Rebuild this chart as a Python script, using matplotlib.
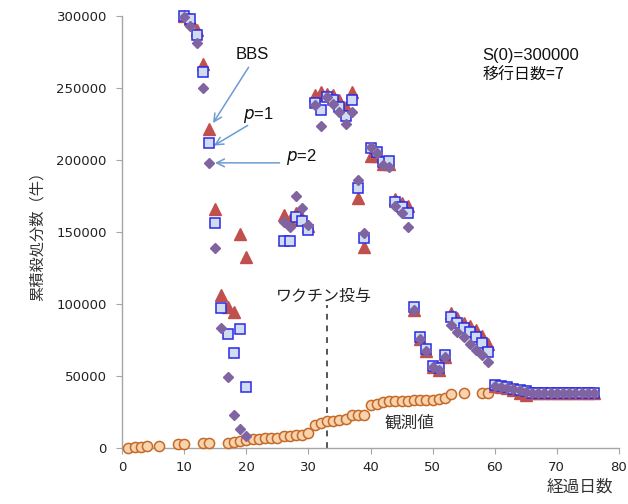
import matplotlib
matplotlib.use("Agg")
import matplotlib.pyplot as plt

# Observed cumulative culled cattle
obs_days = [1, 2, 3, 4, 6, 9, 10, 13, 14, 17, 18, 19, 20, 21, 22, 23, 24, 25, 26, 27, 28, 29, 30,
            31, 32, 33, 34, 35, 36, 37, 38, 39, 40, 41, 42, 43, 44, 45, 46, 47, 48, 49, 50,
            51, 52, 53, 55, 58, 59]
obs_vals = [300, 600, 900, 1100, 1600, 2800, 2800, 3500, 3500, 3700, 4200, 5100, 5800, 6300, 6600,
            6800, 6900, 6900, 8300, 8300, 9000, 9300, 10200, 16200, 17600, 18500, 19000, 19700,
            19900, 23100, 23100, 23100, 29600, 30400, 31700, 32400, 32400, 32400, 32400, 33100,
            33100, 33100, 33100, 33800, 35000, 37300, 37900, 37900, 37900]

# Model predictions
model_days = [10, 11, 12, 13, 14, 15, 16, 17, 18, 19, 20,
              26, 27, 28, 29, 30, 31, 32, 33, 34, 35, 36, 37, 38, 39,
              40, 41, 42, 43, 44, 45, 46, 47, 48, 49, 50, 51, 52,
              53, 54, 55, 56, 57, 58, 59,
              60, 61, 62, 63, 64, 65, 66, 67, 68, 69, 70, 71, 72, 73, 74, 75, 76]
bbs_vals = [300000, 298000, 290000, 266700, 221500, 165800, 106000, 97700, 94700, 148400, 132800,
            162000, 158000, 163000, 160000, 154000, 245000, 247500, 246000, 245000, 241700, 237000,
            247500, 173400, 139800,
            203000, 203000, 197000, 197000, 173000, 170000, 168000, 96000, 75500, 67500, 56000, 54500, 63500,
            94000, 90000, 87000, 85000, 82000, 78000, 72000,
            43000, 42500, 41500, 40000, 38000, 36500, 38000, 38000, 38000, 38000, 38000, 38000,
            38000, 38000, 38000, 38000, 38000]
p1_vals = [300000, 298000, 287000, 261000, 212000, 156000, 97000, 79000, 66200, 82600, 42600,
           143500, 143500, 160600, 157600, 151400, 239400, 234700, 243500, 242000, 237000, 230600,
           241700, 180300, 145600,
           208100, 205800, 198800, 199300, 171000, 167600, 163000, 97700, 76900, 68500, 57000, 55300, 64600,
           91200, 86600, 83100, 80800, 77300, 73100, 66900,
           43700, 43000, 42300, 41300, 40300, 39300, 38500, 38200, 38000, 38000, 38000, 38000,
           38000, 38000, 38000, 38000, 38000]
p2_vals = [299000, 293000, 281000, 250000, 197700, 139000, 83500, 49500, 22900, 13000, 8500,
           157000, 153700, 175000, 167000, 154800, 238000, 223600, 244000, 239000, 233000, 225000,
           233000, 186000, 149500,
           208800, 205000, 196500, 195000, 168000, 163000, 153700, 95800, 75500, 67500, 56000, 54500, 63500,
           85400, 80800, 77300, 72200, 68100, 64600, 59900,
           43000, 42700, 42000, 41000, 40000, 39000, 38300, 38000, 38000, 38000, 38000, 38000,
           38000, 38000, 38000, 38000, 38000]

x_ticks = [0, 10, 20, 30, 40, 50, 60, 70, 80]
y_ticks = [0, 50000, 100000, 150000, 200000, 250000, 300000]
vaccine_day = 33

JP = ['Noto Sans CJK JP', 'DejaVu Sans']
LAT = ['Liberation Sans', 'DejaVu Sans']

fig = plt.figure(figsize=(6.28, 5.04), dpi=100)
ax = fig.add_axes([0.1945, 0.1111, 0.791, 0.8572])

ax.plot(obs_days, obs_vals, linestyle='none', marker='o', markersize=7.3,
        markerfacecolor='#f9d3ae', markeredgecolor='#c46a28', markeredgewidth=1.1,
        clip_on=False, zorder=3)
ax.plot(model_days, bbs_vals, linestyle='none', marker='^', markersize=8,
        markerfacecolor='#c0504d', markeredgecolor='#c0504d', clip_on=False, zorder=4)
ax.plot(model_days, p1_vals, linestyle='none', marker='s', markersize=6.8,
        markerfacecolor='#cfdcf2', markeredgecolor='#2a2ae6', markeredgewidth=1.1,
        clip_on=False, zorder=5)
ax.plot(model_days, p2_vals, linestyle='none', marker='D', markersize=5.6,
        markerfacecolor='#8064a2', markeredgecolor='#8064a2', clip_on=False, zorder=6)

ax.plot([vaccine_day, vaccine_day], [0, 99000], linestyle=(0, (3, 3)), color='#555555',
        linewidth=1.4, zorder=2)

ax.set_xlim(0, 80)
ax.set_ylim(0, 300000)
ax.set_xticks(x_ticks)
ax.set_yticks(y_ticks)
ax.set_xticklabels([str(v) for v in x_ticks])
ax.set_yticklabels([str(v) for v in y_ticks])
for s in ['top', 'right']:
    ax.spines[s].set_visible(False)
for s in ['left', 'bottom']:
    ax.spines[s].set_color('#a6a6a6')
    ax.spines[s].set_linewidth(1.0)
ax.tick_params(axis='both', direction='out', length=4, color='#a6a6a6',
               labelsize=9.5, labelcolor='#222222')
ax.tick_params(axis='y', pad=7)
ax.tick_params(axis='x', pad=5)

ax.set_ylabel('累積殺処分数（牛）', fontsize=11, family=JP, color='#333333', labelpad=8)
fig.text(0.977, 0.016, '経過日数', fontsize=12, family=JP, color='#333333',
         ha='right', va='bottom')

arrow_kw = dict(arrowstyle='->', color='#6c9bd2', lw=1.1, mutation_scale=14)
ax.annotate('', xy=(14.4, 224000), xytext=(20.6, 266000), arrowprops=arrow_kw)
ax.annotate('', xy=(14.4, 209000), xytext=(20.6, 225000), arrowprops=arrow_kw)
ax.annotate('', xy=(14.5, 198000), xytext=(25.8, 198000), arrowprops=arrow_kw)

ax.text(21.0, 273000, 'BBS', fontsize=12, family=LAT, ha='center', va='center', color='#111111')
ax.text(22.0, 231000, '$\\it{p}$=1', fontsize=12, family=LAT, ha='center', va='center', color='#111111')
ax.text(28.9, 202000, '$\\it{p}$=2', fontsize=12, family=LAT, ha='center', va='center', color='#111111')
ax.text(58.0, 272500, 'S(0)=300000', fontsize=12, family=LAT, ha='left', va='center', color='#111111')
ax.text(58.0, 259000, '移行日数=7', fontsize=11.5, family=JP, ha='left', va='center', color='#111111')
ax.text(32.5, 105500, 'ワクチン投与', fontsize=11.5, family=JP, ha='center', va='center', color='#222222')
ax.text(46.3, 17500, '観測値', fontsize=12, family=JP, ha='center', va='center', color='#333333')

fig.savefig('out.png', dpi=100)
